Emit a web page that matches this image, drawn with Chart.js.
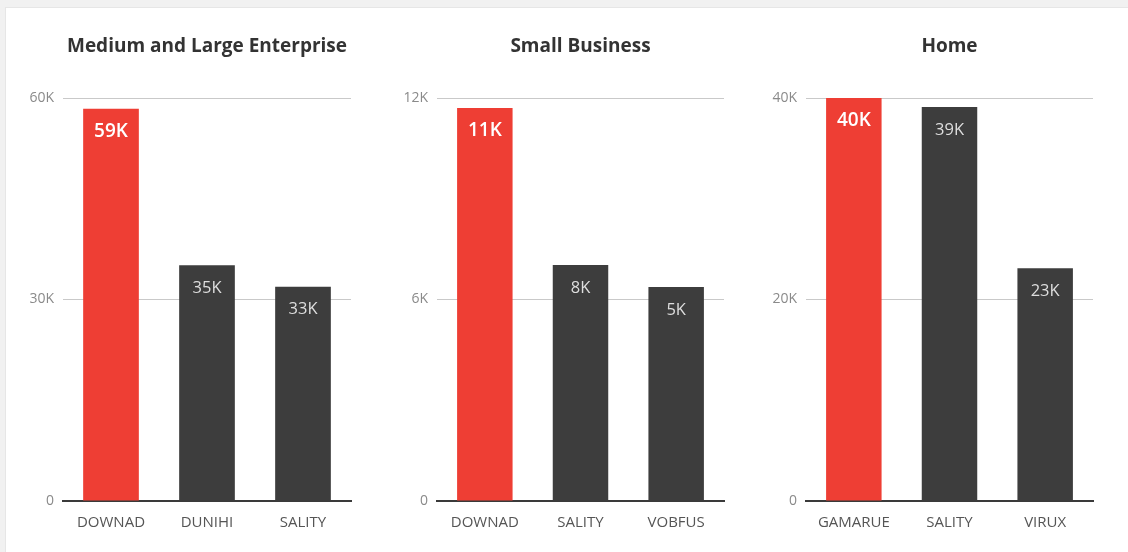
<!DOCTYPE html>
<html>
<head>
<meta charset="utf-8">
<script src="https://cdn.jsdelivr.net/npm/chart.js@4"></script>
<style>
  html, body { margin: 0; padding: 0; }
  body { width: 1128px; height: 552px; background: #f1f1f1; position: relative; overflow: hidden; font-family: "Open Sans", sans-serif; }
  .card { position: absolute; left: 5px; top: 7px; right: 0; bottom: 0; background: #fff; border-left: 1px solid #e6e6e6; border-top: 1px solid #e6e6e6; }
  .panel { position: absolute; top: 0; height: 552px; }
</style>
</head>
<body>
<div class="card"></div>
<div class="panel" style="left:0;width:376px"><canvas id="chart-enterprise"></canvas></div>
<div class="panel" style="left:376px;width:372px"><canvas id="chart-small"></canvas></div>
<div class="panel" style="left:748px;width:380px"><canvas id="chart-home"></canvas></div>
<script>
// data
const enterpriseTitle = 'Medium and Large Enterprise';
const enterpriseLabels = ['DOWNAD', 'DUNIHI', 'SALITY'];
const enterpriseValues = [58400, 35100, 31900];
const enterpriseText = ['59K', '35K', '33K'];
const enterpriseTicks = [0, 30000, 60000];

const smallTitle = 'Small Business';
const smallLabels = ['DOWNAD', 'SALITY', 'VOBFUS'];
const smallValues = [11700, 7030, 6370];
const smallText = ['11K', '8K', '5K'];
const smallTicks = [0, 6000, 12000];

const homeTitle = 'Home';
const homeLabels = ['GAMARUE', 'SALITY', 'VIRUX'];
const homeValues = [40000, 39100, 23100];
const homeText = ['40K', '39K', '23K'];
const homeTicks = [0, 20000, 40000];

const RED = '#ee3e34';
const DARK = '#3d3d3d';

// labels inside the top of each bar
const barText = {
  id: 'barText',
  afterDatasetsDraw(chart, args, opts) {
    const ctx = chart.ctx;
    const meta = chart.getDatasetMeta(0);
    ctx.save();
    ctx.textAlign = 'center';
    ctx.textBaseline = 'middle';
    meta.data.forEach((bar, i) => {
      if (i === 0) {
        ctx.font = '600 19px "Open Sans"';
        ctx.fillStyle = '#ffffff';
      } else {
        ctx.font = '16.5px "Open Sans"';
        ctx.fillStyle = '#dedede';
      }
      ctx.fillText(opts.text[i], bar.x, bar.y + 23);
    });
    ctx.restore();
  }
};

function fmt(v) {
  return v === 0 ? '0' : (v / 1000) + 'K';
}

function makeChart(id, title, labels, values, text, ticks, leftWidth, rightPad) {
  const max = ticks[ticks.length - 1];
  return new Chart(document.getElementById(id), {
    type: 'bar',
    data: {
      labels: labels,
      datasets: [{
        data: values,
        backgroundColor: values.map((v, i) => i === 0 ? RED : DARK),
        borderWidth: 0,
        categoryPercentage: 1,
        barPercentage: 0.58
      }]
    },
    options: {
      responsive: true,
      maintainAspectRatio: false,
      animation: false,
      layout: { padding: { left: 0, right: rightPad, top: 0, bottom: 0 } },
      scales: {
        x: {
          grid: { display: false, drawTicks: false },
          border: { display: true, color: '#3a3a3a', width: 2 },
          ticks: { color: '#555', font: { family: 'Open Sans', size: 15 }, padding: 13 },
          afterFit: s => { s.height = 51; }
        },
        y: {
          min: 0,
          max: max,
          afterBuildTicks: s => { s.ticks = ticks.map(v => ({ value: v })); },
          grid: { color: ctx => ctx.tick && ctx.tick.value === 0 ? 'rgba(0,0,0,0)' : '#c9c9c9', drawTicks: false, lineWidth: 1 },
          border: { display: false },
          ticks: { color: '#8a8a8a', font: { family: 'Open Sans', size: 14 }, padding: 9, callback: v => fmt(v) },
          afterFit: s => { s.width = leftWidth; }
        }
      },
      plugins: {
        legend: { display: false },
        tooltip: { enabled: false },
        title: {
          display: true,
          text: title,
          fullSize: false,
          color: '#333',
          font: { family: 'Open Sans', size: 19, weight: 'bold', lineHeight: 1.2 },
          padding: { top: 35, bottom: 40.2 }
        },
        barText: { text: text }
      }
    },
    plugins: [barText]
  });
}

makeChart('chart-enterprise', enterpriseTitle, enterpriseLabels, enterpriseValues, enterpriseText, enterpriseTicks, 63, 25);
makeChart('chart-small', smallTitle, smallLabels, smallValues, smallText, smallTicks, 61, 24);
makeChart('chart-home', homeTitle, homeLabels, homeValues, homeText, homeTicks, 58, 35);
</script>
</body>
</html>
